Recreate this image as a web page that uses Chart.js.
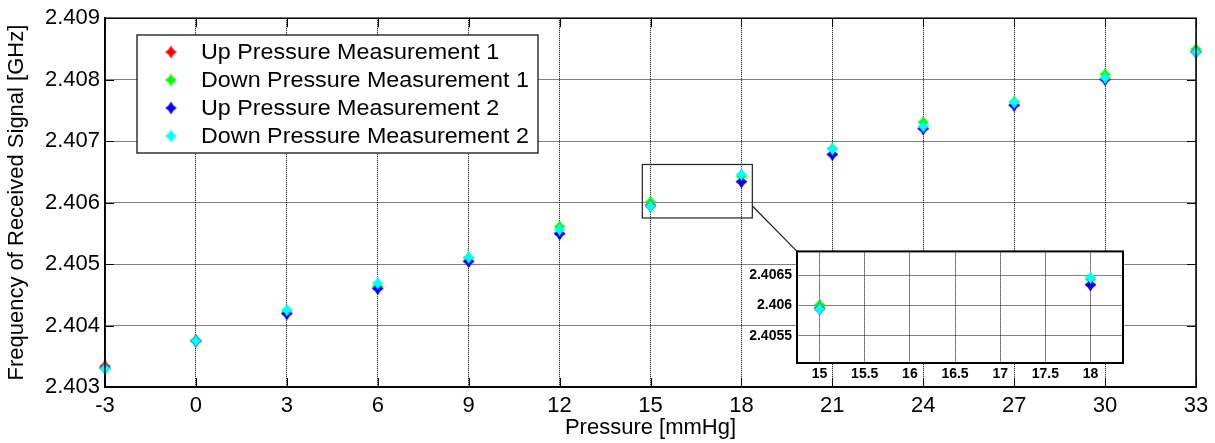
<!DOCTYPE html>
<html>
<head>
<meta charset="utf-8">
<script src="https://cdn.jsdelivr.net/npm/chart.js@4.4.0/dist/chart.umd.min.js"></script>
<style>
body { margin: 0; background: #fff; }
#wrap { position: relative; width: 1215px; height: 443px; }
#mainChart { position: absolute; left: 0; top: 0; }
#insetChart { position: absolute; left: 735px; top: 238px; }
</style>
</head>
<body>
<div id="wrap">
  <canvas id="mainChart" width="1215" height="443"></canvas>
  <canvas id="insetChart" width="395" height="148"></canvas>
</div>
<script>
// Data
const pressure = [-3, 0, 3, 6, 9, 12, 15, 18, 21, 24, 27, 30, 33];
const upMeas1   = [2.40334, 2.40375, 2.40420, 2.40461, 2.40505, 2.40550, 2.40596, 2.40634, 2.40679, 2.40721, 2.40759, 2.40801, 2.40846];
const downMeas1 = [2.40331, 2.40376, 2.40424, 2.40464, 2.40510, 2.40561, 2.40601, 2.40643, 2.40688, 2.40731, 2.40764, 2.40809, 2.40850];
const upMeas2   = [2.40331, 2.40375, 2.40419, 2.40460, 2.40504, 2.40549, 2.40594, 2.40634, 2.40678, 2.40720, 2.40758, 2.40800, 2.40845];
const downMeas2 = [2.40330, 2.40375, 2.40425, 2.40469, 2.40511, 2.40556, 2.40594, 2.40646, 2.40687, 2.40724, 2.40763, 2.40803, 2.40845];

const seriesLabels = ['Up Pressure Measurement 1', 'Down Pressure Measurement 1', 'Up Pressure Measurement 2', 'Down Pressure Measurement 2'];
const seriesValues = [upMeas1, downMeas1, upMeas2, downMeas2];
const seriesColors = ['#ff0000', '#00ff00', '#0000ff', '#00ffff'];

const xTicks = [-3, 0, 3, 6, 9, 12, 15, 18, 21, 24, 27, 30, 33];
const yTicks = [2.403, 2.404, 2.405, 2.406, 2.407, 2.408, 2.409];
const insetXTicks = [15, 15.5, 16, 16.5, 17, 17.5, 18];
const insetYTicks = [2.4055, 2.406, 2.4065];

// zoomed region (data units)
const zoomX = [14.73, 18.36];
const zoomY = [2.40575, 2.40662];
const insetXRange = [14.75, 18.36];
const insetYRange = [2.40505, 2.40689];

const FONT = '"Liberation Sans", Arial, Helvetica, sans-serif';

// MATLAB-like filled diamond/star marker
function makeMarker(color) {
    const c = document.createElement('canvas');
    c.width = 15; c.height = 15;
    const g = c.getContext('2d');
    g.translate(7.5, 7.5);
    g.beginPath();
    g.moveTo(0, -6.5); g.lineTo(2.5, -2.5); g.lineTo(5.8, 0); g.lineTo(2.5, 2.5);
    g.lineTo(0, 6.5); g.lineTo(-2.5, 2.5); g.lineTo(-5.8, 0); g.lineTo(-2.5, -2.5);
    g.closePath();
    g.fillStyle = color;
    g.fill();
    return c;
}
const markers = seriesColors.map(makeMarker);

function buildDatasets(clip) {
    return seriesValues.map((vals, i) => ({
        label: seriesLabels[i],
        data: pressure.map((p, j) => ({x: p, y: vals[j]})),
        showLine: false,
        pointStyle: markers[i],
        pointRadius: 6,
        backgroundColor: seriesColors[i],
        borderColor: seriesColors[i],
        order: seriesValues.length - i, // cyan drawn last (on top)
        clip: clip
    }));
}

function gridScale(ticksArr, min, max, fontOpts, pad, fmt) {
    return {
        type: 'linear',
        min: min,
        max: max,
        afterBuildTicks: s => { s.ticks = ticksArr.map(v => ({value: v})); },
        ticks: {
            color: '#000',
            font: fontOpts,
            padding: pad,
            autoSkip: false,
            maxRotation: 0,
            callback: fmt
        },
        grid: { color: '#000', lineWidth: 1, drawTicks: false },
        border: { color: '#000', width: 1.5, dash: [1, 1] }
    };
}

// ---------- inset chart ----------
const insetPlugin = {
    id: 'insetFrame',
    beforeDraw(chart) {
        const a = chart.chartArea, ctx = chart.ctx;
        ctx.save();
        ctx.fillStyle = '#fff';
        ctx.fillRect(a.left, a.top, a.right - a.left, a.bottom - a.top);
        ctx.restore();
    },
    afterDraw(chart) {
        const a = chart.chartArea, ctx = chart.ctx;
        ctx.save();
        ctx.strokeStyle = '#000';
        ctx.lineWidth = 2;
        ctx.strokeRect(a.left, a.top, a.right - a.left, a.bottom - a.top);
        ctx.restore();
    }
};

const insetFont = {family: FONT, size: 14, weight: 'bold'};
const insetX = gridScale(insetXTicks, insetXRange[0], insetXRange[1], insetFont, 3, v => String(v));
insetX.afterFit = s => { s.height = 23; };
const insetY = gridScale(insetYTicks, insetYRange[0], insetYRange[1], insetFont, 5, v => String(parseFloat(v.toFixed(4))));
insetY.afterFit = s => { s.width = 62; };

const insetChart = new Chart(document.getElementById('insetChart'), {
    type: 'scatter',
    data: { datasets: buildDatasets(undefined) },
    options: {
        responsive: false,
        animation: false,
        layout: { padding: { top: 5, right: 6, left: 0, bottom: 0 } },
        plugins: { legend: { display: false }, tooltip: { enabled: false } },
        scales: { x: insetX, y: insetY }
    },
    plugins: [insetPlugin]
});

// ---------- main chart ----------
const mainPlugin = {
    id: 'mainExtras',
    afterDraw(chart) {
        const a = chart.chartArea, ctx = chart.ctx;
        const xs = chart.scales.x, ys = chart.scales.y;
        ctx.save();
        // axes box + inward ticks
        ctx.strokeStyle = '#000';
        ctx.lineWidth = 1.5;
        ctx.strokeRect(a.left, a.top, a.right - a.left, a.bottom - a.top);
        ctx.lineWidth = 1;
        ctx.beginPath();
        xTicks.forEach(v => {
            const px = Math.round(xs.getPixelForValue(v)) + 0.5;
            ctx.moveTo(px, a.bottom); ctx.lineTo(px, a.bottom - 9);
            ctx.moveTo(px, a.top); ctx.lineTo(px, a.top + 9);
        });
        yTicks.forEach(v => {
            const py = Math.round(ys.getPixelForValue(v)) + 0.5;
            ctx.moveTo(a.left, py); ctx.lineTo(a.left + 9, py);
            ctx.moveTo(a.right, py); ctx.lineTo(a.right - 9, py);
        });
        ctx.stroke();

        // zoom rectangle
        const rx0 = xs.getPixelForValue(zoomX[0]), rx1 = xs.getPixelForValue(zoomX[1]);
        const ry0 = ys.getPixelForValue(zoomY[1]), ry1 = ys.getPixelForValue(zoomY[0]);
        ctx.strokeStyle = '#222';
        ctx.lineWidth = 1.2;
        ctx.strokeRect(rx0, ry0, rx1 - rx0, ry1 - ry0);

        // connector to inset
        const ic = document.getElementById('insetChart');
        const ia = insetChart.chartArea;
        ctx.beginPath();
        ctx.moveTo(rx1, ys.getPixelForValue(2.405945));
        ctx.lineTo(ic.offsetLeft + ia.left, ic.offsetTop + ia.top);
        ctx.stroke();

        // legend
        const L = {left: 137, top: 35, right: 538, bottom: 153};
        ctx.fillStyle = '#fff';
        ctx.fillRect(L.left, L.top, L.right - L.left, L.bottom - L.top);
        ctx.strokeStyle = '#000';
        ctx.lineWidth = 1.2;
        ctx.strokeRect(L.left, L.top, L.right - L.left, L.bottom - L.top);
        ctx.font = '22px ' + FONT;
        ctx.fillStyle = '#000';
        ctx.textBaseline = 'middle';
        ctx.textAlign = 'left';
        seriesLabels.forEach((lab, i) => {
            const cy = 52 + i * 28;
            ctx.drawImage(markers[i], 171 - 7.5, cy - 7.5);
            ctx.save();
            ctx.translate(201, cy + 1);
            ctx.scale(1.06, 1);
            ctx.fillText(lab, 0, 0);
            ctx.restore();
        });
        ctx.restore();
    }
};

const mainFont = {family: FONT, size: 22};
const mainX = gridScale(xTicks, -3, 33, mainFont, 6, v => String(v));
mainX.afterFit = s => { s.height = 56; };
mainX.title = { display: true, text: 'Pressure [mmHg]', color: '#000', font: mainFont, padding: {top: 0, bottom: 2} };
const mainY = gridScale(yTicks, 2.403, 2.409, mainFont, 5, v => v.toFixed(3));
mainY.afterFit = s => { s.width = 105; };
mainY.title = { display: true, text: 'Frequency of Received Signal [GHz]', color: '#000', font: mainFont, padding: {top: 4, bottom: 0} };

const mainChart = new Chart(document.getElementById('mainChart'), {
    type: 'scatter',
    data: { datasets: buildDatasets(false) },
    options: {
        responsive: false,
        animation: false,
        layout: { padding: { top: 16, right: 19, left: 0, bottom: 0 } },
        plugins: { legend: { display: false }, tooltip: { enabled: false } },
        scales: { x: mainX, y: mainY }
    },
    plugins: [mainPlugin]
});
</script>
</body>
</html>
